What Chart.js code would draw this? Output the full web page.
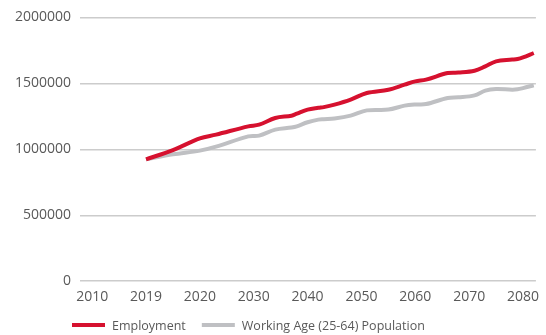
<!DOCTYPE html>
<html>
<head>
<meta charset="utf-8">
<script src="https://cdn.jsdelivr.net/npm/chart.js@4.4.1/dist/chart.umd.min.js"></script>
<style>
  html, body { margin: 0; padding: 0; background: #fff; }
  #wrap { width: 546px; height: 335px; }
</style>
</head>
<body>
<div id="wrap"><canvas id="labourChart"></canvas></div>
<script>
// Axis labels, one every ten steps along the x axis
const tickLabels = ["2010", "2019", "2020", "2030", "2040", "2050", "2060", "2070", "2080"];

// Position of each reading along the x axis (steps from the first label)
const steps = [10, 15, 20, 23, 29, 31, 34, 37, 38, 40, 42, 43, 45, 48, 51, 55, 58, 60, 62, 66, 68, 71, 73, 75, 78, 79, 80, 82];

const employment = [924000, 994000, 1083000, 1111000, 1174000, 1187000, 1237000, 1255000, 1270000, 1301000, 1315000, 1320000, 1339000, 1377000, 1427000, 1452000, 1490000, 1515000, 1528000, 1578000, 1582000, 1596000, 1629000, 1667000, 1680000, 1685000, 1697000, 1730000];
const workingAge = [924000, 962000, 990000, 1020000, 1098000, 1104000, 1149000, 1165000, 1174000, 1205000, 1225000, 1228000, 1233000, 1255000, 1295000, 1301000, 1331000, 1340000, 1343000, 1389000, 1394000, 1409000, 1445000, 1457000, 1452000, 1455000, 1464000, 1485000];

const RED = "#d6112f";
const GREY = "#bfc0c3";
const TEXT = "#595959";
const FONT = "'Open Sans', 'DejaVu Sans', sans-serif";

const toPoints = vals => vals.map((v, i) => ({ x: steps[i], y: v }));

// legend row under the axis, drawn from the dataset labels and colours
const lineLegend = {
  id: "lineLegend",
  afterDraw(chart) {
    const c = chart.ctx;
    const y = 325;
    let x = 72;
    c.save();
    c.font = "12.5px " + FONT;
    c.textBaseline = "middle";
    chart.data.datasets.forEach(ds => {
      c.fillStyle = ds.borderColor;
      c.fillRect(x, y - 2, 33, 4);
      x += 33 + 7;
      c.fillStyle = TEXT;
      c.fillText(ds.label, x, y + 1);
      x += c.measureText(ds.label).width + 16;
    });
    c.restore();
  }
};

const ctx = document.getElementById("labourChart").getContext("2d");

const labourChart = new Chart(ctx, {
  type: "line",
  data: {
    datasets: [
      {
        label: "Employment",
        data: toPoints(employment),
        borderColor: RED,
        backgroundColor: RED,
        borderWidth: 4,
        pointRadius: 0,
        tension: 0.35,
        order: 1
      },
      {
        label: "Working Age (25-64) Population",
        data: toPoints(workingAge),
        borderColor: GREY,
        backgroundColor: GREY,
        borderWidth: 4,
        pointRadius: 0,
        tension: 0.35,
        order: 2
      }
    ]
  },
  options: {
    responsive: true,
    maintainAspectRatio: false,
    animation: false,
    layout: {
      padding: { top: 6, right: 0, left: 0, bottom: 23 }
    },
    scales: {
      x: {
        type: "linear",
        min: -2.26,
        max: 82.4,
        grid: { display: false, drawTicks: false },
        border: { display: false },
        afterBuildTicks(scale) {
          scale.ticks = tickLabels.map((_, i) => ({ value: i * 10 }));
        },
        ticks: {
          padding: 7,
          autoSkip: false,
          maxRotation: 0,
          color: TEXT,
          font: { family: FONT, size: 14 },
          callback: value => tickLabels[Math.round(value / 10)]
        }
      },
      y: {
        min: 0,
        max: 2000000,
        afterFit(scale) {
          scale.width = 80;
        },
        grid: { color: "#cccccc", lineWidth: 1.5, drawTicks: false },
        border: { display: false },
        ticks: {
          stepSize: 500000,
          padding: 9,
          color: TEXT,
          font: { family: FONT, size: 14 },
          callback: value => String(value)
        }
      }
    },
    plugins: {
      legend: { display: false },
      tooltip: { enabled: false }
    }
  },
  plugins: [lineLegend]
});
</script>
</body>
</html>
